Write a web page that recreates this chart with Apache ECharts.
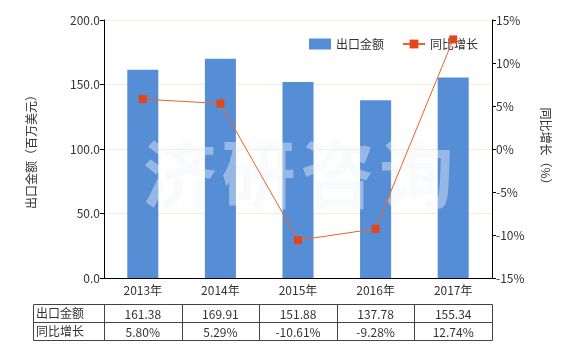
<!DOCTYPE html>
<html>
<head>
<meta charset="utf-8">
<script src="https://cdn.jsdelivr.net/npm/echarts@6/dist/echarts.min.js"></script>
<style>
html,body{margin:0;padding:0;background:#fff;}
#c{width:580px;height:350px;}
</style>
</head>
<body>
<div id="c"></div>
<script>
var categories = ['2013年', '2014年', '2015年', '2016年', '2017年'];
var exportValues = [161.38, 169.91, 151.88, 137.78, 155.34];
var growthValues = [5.80, 5.29, -10.61, -9.28, 12.74];
var exportLabels = ['161.38', '169.91', '151.88', '137.78', '155.34'];
var growthLabels = ['5.80%', '5.29%', '-10.61%', '-9.28%', '12.74%'];
var rowNames = ['出口金额', '同比增长'];
var watermark = ['济', '研', '咨', '询'];

var FONT = '"Noto Sans CJK SC", "Microsoft YaHei", sans-serif';
var chart = echarts.init(document.getElementById('c'), null, {renderer: 'canvas'});

var option = {
  animation: false,
  backgroundColor: '#fff',
  textStyle: {fontFamily: FONT},
  grid: {left: 104, right: 88, top: 20, bottom: 72},
  legend: {
    left: 304, top: 33, itemGap: 18, itemWidth: 22, itemHeight: 11,
    textStyle: {fontSize: 12, color: '#333', fontFamily: FONT},
    data: [{name: '出口金额', icon: 'rect'}, {name: '同比增长'}]
  },
  xAxis: {
    type: 'category', data: categories,
    axisLine: {lineStyle: {color: '#000', width: 1}},
    axisTick: {show: false},
    axisLabel: {color: '#333', fontSize: 12, margin: 6, fontFamily: FONT}
  },
  yAxis: [{
    type: 'value', min: 0, max: 200, interval: 50,
    name: '出口金额（百万美元）', nameLocation: 'middle', nameGap: 67,
    nameTextStyle: {color: '#333', fontSize: 12, fontFamily: FONT},
    axisLine: {show: true, lineStyle: {color: '#000'}},
    axisTick: {show: true, length: 4, lineStyle: {color: '#000'}},
    axisLabel: {color: '#333', fontSize: 12, margin: 4, formatter: function(v){return v.toFixed(1);}},
    splitLine: {lineStyle: {color: '#f0f0dc'}}
  }, {
    type: 'value', min: -15, max: 15, interval: 5, position: 'right',
    name: '同比增长（%）', nameLocation: 'middle', nameGap: 48, nameRotate: -90,
    nameTextStyle: {color: '#333', fontSize: 12, fontFamily: FONT},
    axisLine: {show: true, lineStyle: {color: '#000'}},
    axisTick: {show: true, length: 4, lineStyle: {color: '#000'}},
    axisLabel: {color: '#333', fontSize: 12, margin: 4, formatter: '{value}%'},
    splitLine: {show: false}
  }],
  series: [{
    name: '出口金额', type: 'bar', data: exportValues, barWidth: '40%',
    itemStyle: {color: '#568ed6'}, z: 2
  }, {
    name: '同比增长', type: 'line', yAxisIndex: 1, data: growthValues,
    symbol: 'rect', symbolSize: 8,
    lineStyle: {color: '#e8642a', width: 1},
    itemStyle: {color: '#e2461b'}, z: 5
  }]
};
chart.setOption(option);

function buildGraphics() {
  var g = [];
  var centers = categories.map(function(c, i){ return chart.convertToPixel({xAxisIndex: 0}, c); });
  var step = centers[1] - centers[0];
  var x0 = centers[0] - step / 2;
  var xEnd = centers[centers.length - 1] + step / 2;
  var tableLeft = 33, top = 304, rowH = 18;
  var bc = '#444';
  // watermark
  var wmY = 174, wmStart = (x0 + xEnd) / 2 - 1.5 * 79;
  watermark.forEach(function(ch, i){
    g.push({type: 'text', z: 3, silent: true,
      style: {text: ch, x: wmStart + i * 79, y: wmY, align: 'center', verticalAlign: 'middle',
        font: 'bold 74px ' + FONT, fill: 'rgba(240,244,248,0.42)'}});
  });
  // table borders
  var lines = [];
  lines.push([tableLeft, top, xEnd, top]);
  lines.push([tableLeft, top + rowH, xEnd, top + rowH]);
  lines.push([tableLeft, top + 2 * rowH, xEnd, top + 2 * rowH]);
  lines.push([tableLeft, top, tableLeft, top + 2 * rowH]);
  for (var i = 0; i <= categories.length; i++) {
    var x = x0 + i * step;
    lines.push([x, top, x, top + 2 * rowH]);
  }
  lines.forEach(function(l){
    g.push({type: 'line', shape: {x1: Math.round(l[0]) + 0.5, y1: Math.round(l[1]) + 0.5, x2: Math.round(l[2]) + 0.5, y2: Math.round(l[3]) + 0.5},
      style: {stroke: bc, lineWidth: 1}});
  });
  rowNames.forEach(function(n, r){
    g.push({type: 'text', style: {text: n, x: tableLeft + 3, y: top + r * rowH + rowH / 2, verticalAlign: 'middle', align: 'left', font: '12px ' + FONT, fill: '#333'}});
  });
  [exportLabels, growthLabels].forEach(function(arr, r){
    arr.forEach(function(t, i){
      g.push({type: 'text', style: {text: t, x: centers[i], y: top + r * rowH + rowH / 2 + 1, verticalAlign: 'middle', align: 'center', font: '12px ' + FONT, fill: '#333'}});
    });
  });
  chart.setOption({graphic: {elements: g}});
}
buildGraphics();
</script>
</body>
</html>
